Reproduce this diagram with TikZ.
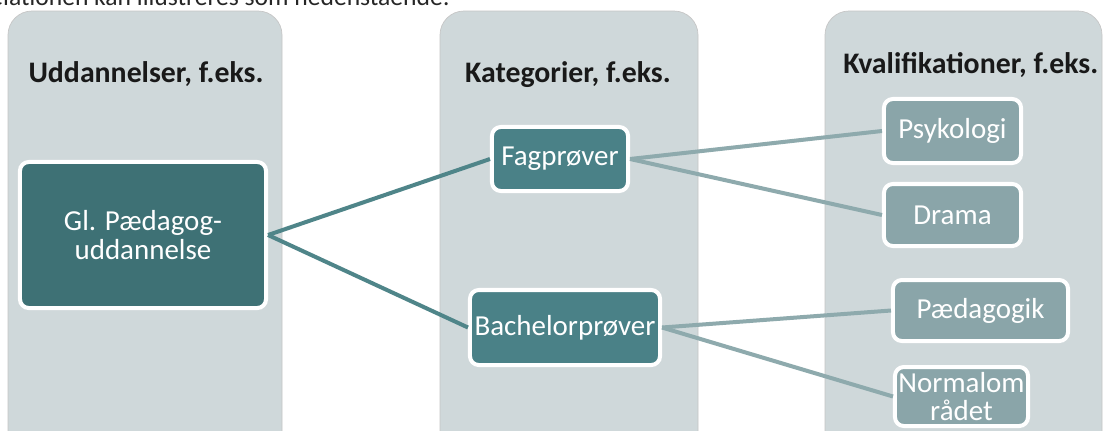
\documentclass[tikz,border=0pt]{standalone}
\usepackage{fontspec}
\setmainfont{Carlito}
\definecolor{panelgray}{HTML}{CFD8DA}
\definecolor{maindark}{HTML}{3E7175}
\definecolor{katteal}{HTML}{4A8187}
\definecolor{kvalgray}{HTML}{8AA5A9}
\definecolor{linkdark}{HTML}{4F8589}
\definecolor{linklight}{HTML}{8EAAAD}

\begin{document}
\begin{tikzpicture}[x=0.025cm, y=-0.025cm,
    panel/.style={fill=panelgray, draw=gray!45, line width=0.5pt, rounded corners=0.6cm},
    box/.style={draw=white, line width=0.1cm, rounded corners=0.22cm, text=white,
      inner sep=1pt, align=center, font=\fontsize{20.6}{20.5}\selectfont},
    mainbox/.style={box, fill=maindark},
    katbox/.style={box, fill=katteal},
    kvalbox/.style={box, fill=kvalgray},
    heading/.style={font=\fontsize{21.2}{24}\selectfont\bfseries, text=black!90},
    link/.style={line width=0.1cm, draw=linkdark},
    sublink/.style={line width=0.1cm, draw=linklight}]
  \useasboundingbox (0,0) rectangle (1105,430);
  \clip (0,0) rectangle (1105,430);
  \fill[white] (0,0) rectangle (1105,430);
  \node[anchor=base east, inner sep=0pt, font=\fontsize{18.2}{20}\selectfont, text=black!85] (intro) at (450,5)
    {Relationen kan illustreres som nedenstående:};

  % three columns
  \draw[panel] (8,11) rectangle (282,470);
  \draw[panel] (440,11) rectangle (698,470);
  \draw[panel] (825,11) rectangle (1102,470);
  \node[heading, anchor=base] (hudd) at (146,82) {Uddannelser, f.eks.};
  \node[heading, anchor=base] (hkat) at (568,82) {Kategorier, f.eks.};
  \node[heading, anchor=base west, inner sep=0pt] (hkval) at (843,73) {Kvalifikationer, f.eks.};

  % boxes
  \node[mainbox, minimum width=6.15cm, minimum height=3.65cm] (gl) at (143,235) {Gl. Pædagog-\\uddannelse};
  \node[katbox, minimum width=3.4cm, minimum height=1.6cm] (fag) at (560,159) {Fagprøver};
  \node[katbox, minimum width=4.75cm, minimum height=1.875cm] (bach) at (565,327.5) {Bachelorprøver};
  \node[kvalbox, minimum width=3.425cm, minimum height=1.6cm] (psyk) at (952.5,131) {Psykologi};
  \node[kvalbox, minimum width=3.425cm, minimum height=1.55cm] (drama) at (952.5,215) {Drama};
  \node[kvalbox, minimum width=4.375cm, minimum height=1.525cm] (paed) at (980.5,310.5) {Pædagogik};
  \node[kvalbox, minimum width=3.325cm, minimum height=1.475cm] (normal) at (961.5,396.5) {Normalom\\rådet};

  % connectors
  \draw[link] (gl.east) -- (fag.west);
  \draw[link] (gl.east) -- (bach.west);
  \draw[sublink] (fag.east) -- (psyk.west);
  \draw[sublink] (fag.east) -- (drama.west);
  \draw[sublink] (bach.east) -- (paed.west);
  \draw[sublink] (bach.east) -- (normal.west);
\end{tikzpicture}
\end{document}
